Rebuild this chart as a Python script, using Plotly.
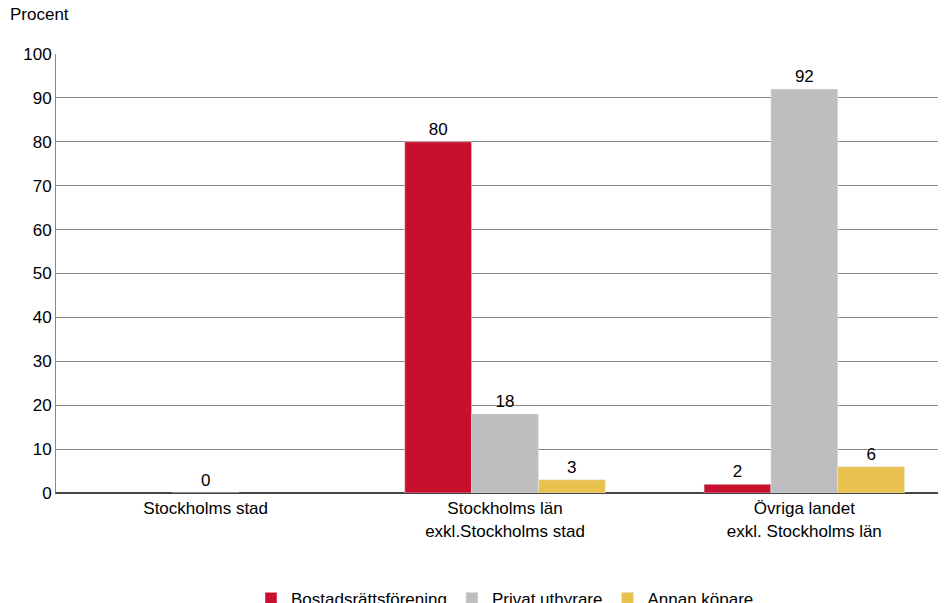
import plotly.graph_objects as go

categories = ["Stockholms stad", "Stockholms län<br>exkl.Stockholms stad", "Övriga landet<br>exkl. Stockholms län"]
bostadsratt = [None, 80, 2]
privat = [0, 18, 92]
annan = [None, 3, 6]

font = dict(family="Liberation Sans, Arial", size=17, color="#000")

fig = go.Figure()
for name, vals, col in [("Bostadsrättsförening", bostadsratt, "#C8102E"),
                        ("Privat uthyrare", privat, "#BEBEC0"),
                        ("Annan köpare", annan, "#E8C14E")]:
    fig.add_bar(x=categories, y=vals, name=name, marker_color=col,
                text=[("" if v is None else str(v)) for v in vals],
                textposition="outside", textfont=font, cliponaxis=False)

fig.update_layout(
    width=946, height=603, barmode="group", bargap=0.33, bargroupgap=0,
    plot_bgcolor="white", paper_bgcolor="white", font=font,
    margin=dict(l=48, r=0, t=46, b=118, autoexpand=False),
    legend=dict(orientation="h", x=0.5, xanchor="center", y=-0.2, yanchor="top",
                font=font, itemwidth=30, tracegroupgap=0),
    annotations=[dict(text="Procent", x=-0.053, y=1.0, xref="paper", yref="paper",
                      yshift=28, xanchor="left", yanchor="bottom",
                      showarrow=False, font=font)],
)
fig.update_yaxes(range=[0, 100], dtick=10, showgrid=True, gridcolor="#888", gridwidth=1,
                 showline=True, linecolor="#888", zeroline=True, zerolinecolor="#444",
                 ticks="", tickfont=font, automargin=False)
fig.update_xaxes(showline=True, linecolor="#444", ticks="", tickfont=font, automargin=False)
fig.write_html("out.html")
